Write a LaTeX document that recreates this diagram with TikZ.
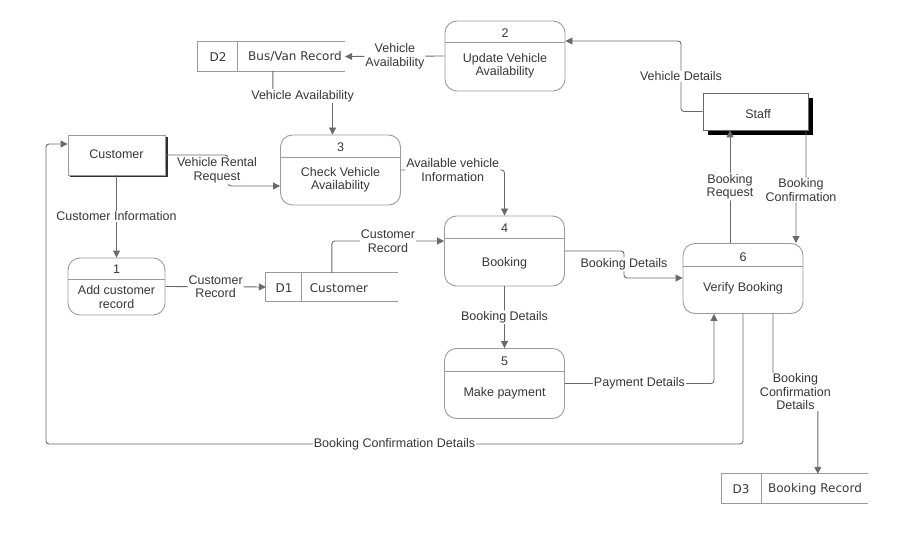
\documentclass[tikz,border=0pt]{standalone}
\usepackage{fontspec}
\setmainfont{Liberation Sans}
\newfontfamily\storefont{DejaVu Sans}
\usetikzlibrary{arrows.meta}
\definecolor{linec}{RGB}{105,105,105}
\definecolor{boxc}{RGB}{155,155,155}
\definecolor{txt}{RGB}{55,55,60}
\definecolor{cshadow}{RGB}{45,50,35}
\tikzset{
  flow/.style={draw=linec, line width=0.9pt, rounded corners=3pt, -{Triangle[length=7pt,width=7pt]}},
  lbl/.style={fill=white, inner sep=1pt, text=txt, font=\fontsize{12.5}{13.5}\selectfont, align=center},
  procbox/.style={draw=boxc, line width=0.9pt, rounded corners=12pt, inner sep=0pt, minimum width=120pt, minimum height=70pt},
  ptext/.style={text=txt, font=\fontsize{12.5}{13.5}\selectfont, align=center, inner sep=0pt},
  entbox/.style={draw=boxc, fill=white, line width=0.8pt, inner sep=0pt},
  storebox/.style={inner sep=0pt, minimum width=147pt, minimum height=29pt},
  storeline/.style={draw=boxc, line width=0.9pt},
  stext/.style={text=txt, font=\storefont\fontsize{12}{13}\selectfont, inner sep=0pt},
}
\begin{document}
\begin{tikzpicture}[x=1pt,y=-1pt]
\useasboundingbox (0,0) rectangle (917,545);

% ---------- processes ----------
\node[procbox] (p2) at (505,56) {};
\draw[storeline] ([yshift=-22pt]p2.north west) -- ([yshift=-22pt]p2.north east);
\node[ptext] (p2n) at (505,33) {2};
\node[ptext] (p2t) at (505,66) {Update Vehicle\\Availability};

\node[procbox] (p3) at (340.5,170) {};
\draw[storeline] ([yshift=-23pt]p3.north west) -- ([yshift=-23pt]p3.north east);
\node[ptext] (p3n) at (340.5,147) {3};
\node[ptext] (p3t) at (340.5,180) {Check Vehicle\\Availability};

\node[procbox, minimum width=97pt, minimum height=57pt] (p1) at (116.5,286.5) {};
\draw[storeline] ([yshift=-22pt]p1.north west) -- ([yshift=-22pt]p1.north east);
\node[ptext] (p1n) at (116.5,269) {1};
\node[ptext] (p1t) at (116.5,297) {Add customer\\record};

\node[procbox] (p4) at (504.5,251) {};
\draw[storeline] ([yshift=-23pt]p4.north west) -- ([yshift=-23pt]p4.north east);
\node[ptext] (p4n) at (504.5,228) {4};
\node[ptext] (p4t) at (504.5,263) {Booking};

\node[procbox] (p5) at (504.5,383.5) {};
\draw[storeline] ([yshift=-23pt]p5.north west) -- ([yshift=-23pt]p5.north east);
\node[ptext] (p5n) at (504.5,361) {5};
\node[ptext] (p5t) at (504.5,393) {Make payment};

\node[procbox] (p6) at (743,278.5) {};
\draw[storeline] ([yshift=-23pt]p6.north west) -- ([yshift=-23pt]p6.north east);
\node[ptext] (p6n) at (743,257) {6};
\node[ptext] (p6t) at (743,288) {Verify Booking};

% ---------- external entities ----------
\fill[cshadow] (70,137) rectangle (167.5,177.5);
\node[entbox, minimum width=97pt, minimum height=40pt] (cust) at (116.5,155) {};
\node[ptext] (custt) at (116.5,154) {Customer};

\fill[black] (708,98) rectangle (813,135);
\node[entbox, draw=linec, minimum width=105pt, minimum height=37pt] (staff) at (755.5,111.5) {};
\node[ptext] (stafft) at (758,114) {Staff};

% ---------- stores ----------
\node[storebox] (d2) at (271.5,56.5) {};
\draw[storeline] (d2.north east) -- (d2.north west) -- (d2.south west) -- (d2.south east);
\draw[storeline] ([xshift=40pt]d2.north west) -- ([xshift=40pt]d2.south west);
\node[stext] (d2id) at (218,57) {D2};
\node[stext] (d2t) at (295,57) {Bus/Van Record};

\node[storebox, minimum width=132pt, minimum height=28pt] (d1) at (332,287) {};
\draw[storeline] (d1.north east) -- (d1.north west) -- (d1.south west) -- (d1.south east);
\draw[storeline] ([xshift=36pt]d1.north west) -- ([xshift=36pt]d1.south west);
\node[stext] (d1id) at (284,288) {D1};
\node[stext] (d1t) at (339,288) {Customer};

\node[storebox, minimum width=146pt] (d3) at (795,488.5) {};
\draw[storeline] (d3.north east) -- (d3.north west) -- (d3.south west) -- (d3.south east);
\draw[storeline] ([xshift=40pt]d3.north west) -- ([xshift=40pt]d3.south west);
\node[stext] (d3id) at (741,489) {D3};
\node[stext] (d3t) at (815,489) {Booking Record};

% ---------- flows ----------
\draw[flow] (p2.west) -- node[lbl] {Vehicle\\Availability} (d2.east);

\coordinate (a1) at ([xshift=75pt]d2.south west);
\coordinate (a2) at ([xshift=-8pt]p3.north);
\draw[flow] (a1) -- (a1 |- 0,96) -- node[lbl] {Vehicle Availability} (a2 |- 0,96) -- (a2);

\draw[flow] (cust.east) -- (228,155) -- node[lbl, xshift=-11pt] {Vehicle Rental\\Request} (228,186) -- (p3.west |- 0,186);

\draw[flow] (cust.south) -- node[lbl] {Customer Information} (p1.north);

\draw[flow] (p1.east) -- node[lbl] {Customer\\Record} (d1.west);

\coordinate (b1) at ([xshift=66pt]d1.north west);
\draw[flow] (b1) -- (b1 |- 0,241) -- node[lbl] {Customer\\Record} (p4.west |- 0,241);

\draw[flow] (p3.east) -- node[lbl] {Available vehicle\\Information} (p4.north |- 0,170) -- (p4.north);

\draw[flow] (p4.east) -- (624,251) -- node[lbl] {Booking Details} (624,278) -- (p6.west |- 0,278);

\draw[flow] (p4.south) -- node[lbl] {Booking Details} (p5.north);

\draw[flow] (p5.east) -- node[lbl] {Payment Details} (714,383.5) -- (714,0 |- p6.south);

\draw[flow] (staff.west) -- (681,111.5) -- node[lbl] {Vehicle Details} (681,41) -- (p2.east |- 0,41);

\coordinate (c1) at ([xshift=-13pt]p6.north);
\draw[flow] (c1) -- node[lbl] {Booking\\Request} (c1 |- staff.south);

\draw[flow] (806,0 |- staff.south) -- (806,190) -- node[lbl] {Booking\\Confirmation} (796,190) -- (796,0 |- p6.north);

\draw[flow] (p6.south) -- (743,444) -- node[lbl] {Booking Confirmation Details} (46,444) -- (46,144) -- (cust.west |- 0,144);

\coordinate (e1) at ([xshift=30pt]p6.south);
\coordinate (e2) at ([xshift=96pt]d3.north west);
\draw[flow] (e1) -- (e1 |- 0,392) -- node[lbl] {Booking\\Confirmation\\Details} (e2 |- 0,392) -- (e2);
\end{tikzpicture}
\end{document}
